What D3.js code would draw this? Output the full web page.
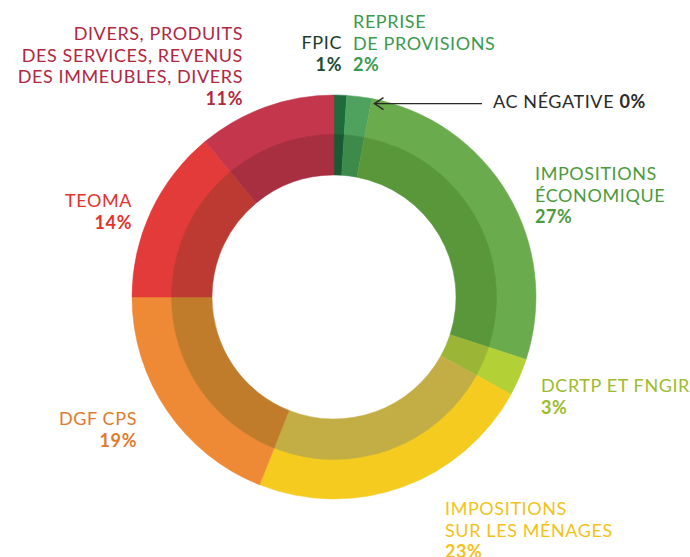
<!DOCTYPE html>
<html>
<head>
<meta charset="utf-8">
<script src="https://cdn.jsdelivr.net/npm/d3@7"></script>
<style>
  html, body { margin: 0; padding: 0; background: #fff; }
  svg text { font-family: Lato, "Open Sans", sans-serif; font-size: 18px; letter-spacing: 0.6px; }
</style>
</head>
<body>
<div id="chart"></div>
<script>
// Data, clockwise from 12 o'clock
const categories = ['FPIC', 'REPRISE DE PROVISIONS', 'AC NÉGATIVE', 'IMPOSITIONS ÉCONOMIQUE',
  'DCRTP ET FNGIR', 'IMPOSITIONS SUR LES MÉNAGES', 'DGF CPS', 'TEOMA',
  'DIVERS, PRODUITS DES SERVICES, REVENUS DES IMMEUBLES, DIVERS'];
const shares = [1, 2, 0, 27, 3, 23, 19, 14, 11];

// label text lines (name lines, then percentage)
const labelLines = [
  ['FPIC'],
  ['REPRISE', 'DE PROVISIONS'],
  ['AC NÉGATIVE'],
  ['IMPOSITIONS', 'ÉCONOMIQUE'],
  ['DCRTP ET FNGIR'],
  ['IMPOSITIONS', 'SUR LES MÉNAGES'],
  ['DGF CPS'],
  ['TEOMA'],
  ['DIVERS, PRODUITS', 'DES SERVICES, REVENUS', 'DES IMMEUBLES, DIVERS']
];

// styles
const outerColors = ['#1f6b3d', '#4ea25e', '#4ea25e', '#6aab4e', '#b3d036', '#f4cb1e', '#ee8a36', '#e33b39', '#c3364b'];
const innerColors = ['#1a5a33', '#3e8a4b', '#3e8a4b', '#5a973b', '#9bb537', '#c3ae45', '#c17c2b', '#bd3a33', '#a72f40'];
const textColors  = ['#1d3b2b', '#3b9a4e', '#2b2b2b', '#4d9a3e', '#9dbb2d', '#f2c21a', '#e07a2e', '#e5322d', '#b0273f'];

// label anchor: x, first baseline y, anchor
const labelLayout = [
  { x: 342, y: 49, anchor: 'end' },
  { x: 353, y: 28, anchor: 'start' },
  { x: 493, y: 108, anchor: 'start', inline: true },
  { x: 535, y: 180, anchor: 'start' },
  { x: 541, y: 392, anchor: 'start' },
  { x: 445, y: 515, anchor: 'start' },
  { x: 137, y: 425, anchor: 'end' },
  { x: 132, y: 207, anchor: 'end' },
  { x: 243, y: 40, anchor: 'end' }
];

const width = 690, height = 557;
const cx = 334, cy = 297;
const rOuter = 202, rMid = 162, rInner = 122;
const lineStep = 21.5;

const svg = d3.select('#chart').append('svg')
  .attr('width', width)
  .attr('height', height);

const g = svg.append('g').attr('transform', `translate(${cx},${cy})`);

const pie = d3.pie().sort(null).value(d => d)(shares);

const arcOuter = d3.arc().innerRadius(rMid).outerRadius(rOuter);
const arcInner = d3.arc().innerRadius(rInner).outerRadius(rMid + 0.5);

g.append('g').selectAll('path')
  .data(pie)
  .enter()
  .append('path')
  .attr('d', arcOuter)
  .attr('fill', (d, i) => outerColors[i])
  .attr('stroke', (d, i) => outerColors[i])
  .attr('stroke-width', d => d.value > 0 ? 0.5 : 0);

g.append('g').selectAll('path')
  .data(pie)
  .enter()
  .append('path')
  .attr('d', arcInner)
  .attr('fill', (d, i) => innerColors[i])
  .attr('stroke', (d, i) => innerColors[i])
  .attr('stroke-width', d => d.value > 0 ? 0.5 : 0);

// pointer for the 0% slice
const acSlice = pie[2];
const tipX = cx + (rOuter - 2) * Math.sin(acSlice.startAngle) + 3;
const tipY = cy - (rOuter - 2) * Math.cos(acSlice.startAngle) + 3;
svg.append('line')
  .attr('x1', 482).attr('y1', tipY)
  .attr('x2', tipX).attr('y2', tipY)
  .attr('stroke', '#2b2b2b')
  .attr('stroke-width', 1.3);
svg.append('path')
  .attr('d', `M${tipX + 9},${tipY - 6} L${tipX},${tipY} L${tipX + 9},${tipY + 6}`)
  .attr('fill', 'none')
  .attr('stroke', '#2b2b2b')
  .attr('stroke-width', 1.5);

// labels
const labels = svg.append('g');
labelLayout.forEach((lay, i) => {
  const t = labels.append('text')
    .attr('x', lay.x)
    .attr('y', lay.y)
    .attr('text-anchor', lay.anchor)
    .attr('fill', textColors[i]);
  if (lay.inline) {
    t.append('tspan').text(labelLines[i][0] + ' ');
    t.append('tspan').attr('font-weight', 700).text(shares[i] + '%');
    return;
  }
  labelLines[i].forEach((line, j) => {
    t.append('tspan')
      .attr('x', lay.x)
      .attr('dy', j === 0 ? 0 : lineStep)
      .text(line);
  });
  t.append('tspan')
    .attr('x', lay.x)
    .attr('dy', lineStep)
    .attr('font-weight', 700)
    .attr('fill', i === 0 ? '#1d4a30' : textColors[i])
    .text(shares[i] + '%');
});
</script>
</body>
</html>
